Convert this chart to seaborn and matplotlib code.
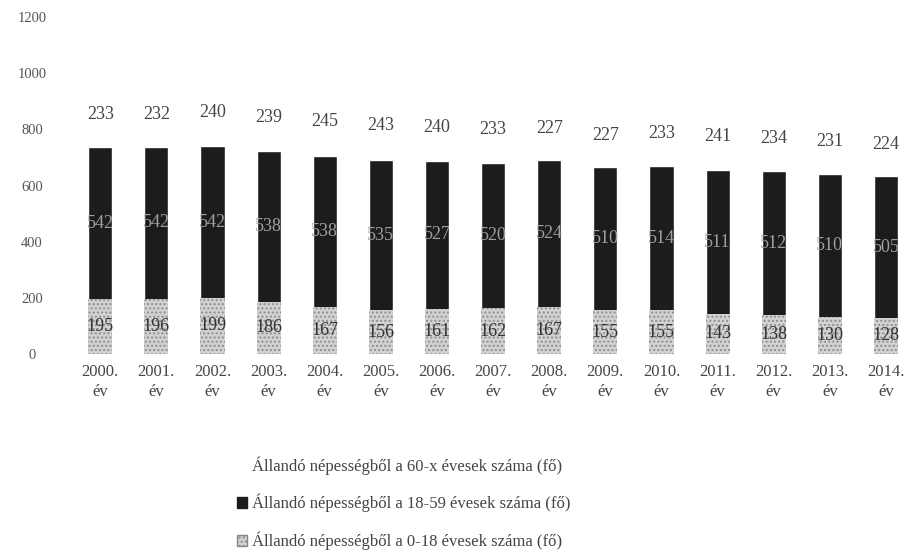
import matplotlib
matplotlib.use("Agg")
import matplotlib.pyplot as plt
from matplotlib.patches import Patch
import numpy as np
import pandas as pd
import seaborn as sns

years = ["2000.", "2001.", "2002.", "2003.", "2004.", "2005.", "2006.", "2007.",
         "2008.", "2009.", "2010.", "2011.", "2012.", "2013.", "2014."]
age_60x = [233, 232, 240, 239, 245, 243, 240, 233, 227, 227, 233, 241, 234, 231, 224]
age_18_59 = [542, 542, 542, 538, 538, 535, 527, 520, 524, 510, 514, 511, 512, 510, 505]
age_0_18 = [195, 196, 199, 186, 167, 156, 161, 162, 167, 155, 155, 143, 138, 130, 128]

labels = [
    "Állandó népességből a 60-x évesek száma (fő)",
    "Állandó népességből a 18-59 évesek száma (fő)",
    "Állandó népességből a 0-18 évesek száma (fő)",
]

df = pd.DataFrame({
    "year": [y + "\név" for y in years],
    "young": age_0_18,
    "mid": age_18_59,
    "old": age_60x,
})
df["mid_cum"] = df["young"] + df["mid"]
df["total"] = df["mid_cum"] + df["old"]

sns.set_style("white")
plt.rcParams["font.family"] = ["Liberation Serif", "DejaVu Serif"]

DARK = "#1c1c1c"
LIGHT = "#d2d2d2"
TEXT = "#444444"

fig = plt.figure(figsize=(9.14, 5.53), dpi=100)
ax = fig.add_axes([0.079, 0.360, 0.921, 0.609])

bw = 0.43
# stacked by overlaying cumulative totals
sns.barplot(data=df, x="year", y="total", color="white", width=bw,
            saturation=1, ax=ax)
sns.barplot(data=df, x="year", y="mid_cum", color=DARK, width=bw,
            saturation=1, ax=ax)
sns.barplot(data=df, x="year", y="young", color=LIGHT, width=bw,
            saturation=1, ax=ax)

# scanned look: speckled light segments
for p in ax.patches[-len(years):]:
    p.set_hatch("....")
    p.set_edgecolor("#8f8f8f")
    p.set_linewidth(0)

for i, row in df.iterrows():
    ax.text(i, row["mid_cum"] + row["old"] / 2, str(row["old"]), ha="center",
            va="center", fontsize=13, color=TEXT)
    ax.text(i, row["young"] + row["mid"] / 2, str(row["mid"]), ha="center",
            va="center", fontsize=13, color="#a0a0a0")
    ax.text(i, row["young"] / 2, str(row["young"]), ha="center",
            va="center", fontsize=13, color="#333333")

ax.set_ylim(0, 1200)
ax.set_xlim(-0.5, len(years) - 0.5)
ax.set_yticks(np.arange(0, 1201, 200))
ax.set_xlabel("")
ax.set_ylabel("")
sns.despine(ax=ax, left=True, bottom=True)
ax.tick_params(axis="y", length=0, pad=29, labelsize=10.5, labelcolor="#555555")
ax.tick_params(axis="x", length=0, pad=7, labelsize=12, labelcolor=TEXT)
for t in ax.get_yticklabels():
    t.set_horizontalalignment("center")
for t in ax.get_xticklabels():
    t.set_linespacing(1.35)
ax.grid(False)

handles = [
    Patch(facecolor="white", edgecolor="white"),
    Patch(facecolor=DARK, edgecolor=DARK),
    Patch(facecolor=LIGHT, edgecolor="#888888", hatch="...."),
]
fig.legend(handles, labels, loc="upper center", bbox_to_anchor=(0.442, 0.202),
           frameon=False, ncol=1, fontsize=12, handlelength=0.6,
           handleheight=0.6, handletextpad=0.3, labelspacing=1.15,
           labelcolor=TEXT)

fig.savefig("out.png", dpi=100)
